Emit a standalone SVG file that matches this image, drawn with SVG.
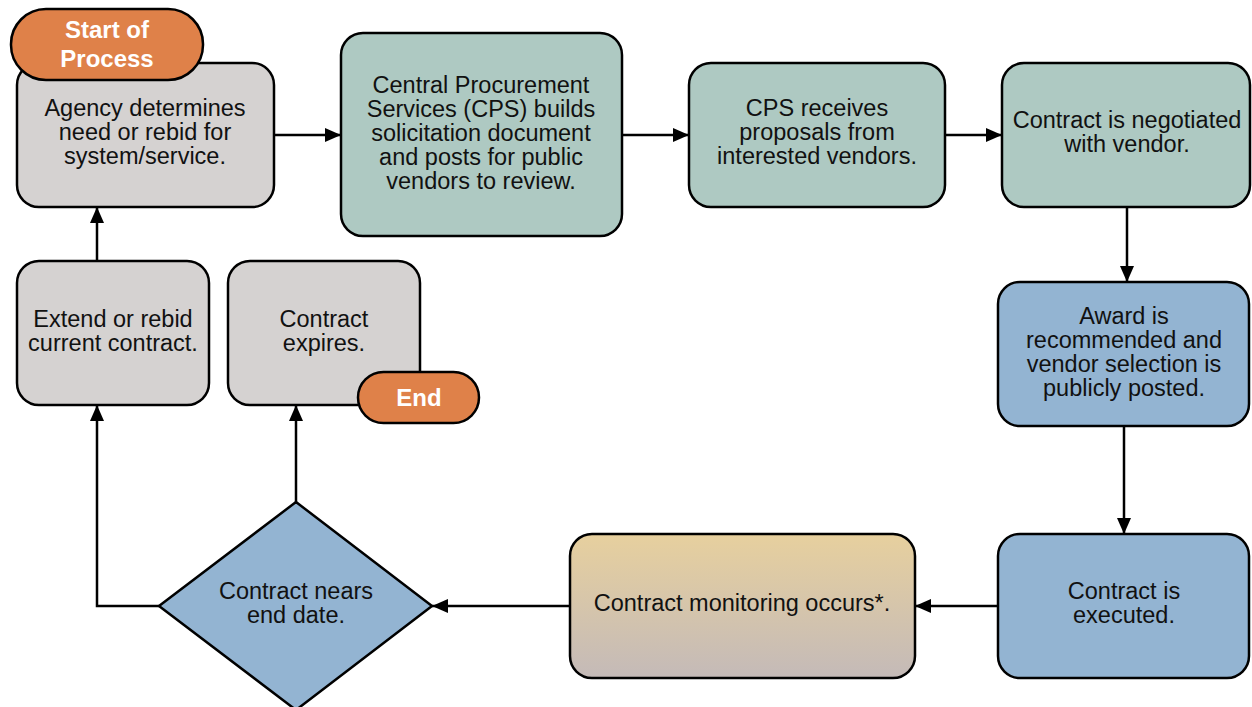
<svg xmlns="http://www.w3.org/2000/svg" width="1252" height="707" viewBox="0 0 1252 707">
  <style>
    .box { stroke: #000; stroke-width: 2.5; }
    .gray { fill: #d5d2d1; }
    .teal { fill: #aec9c2; }
    .blue { fill: #93b4d2; }
    .pill { fill: #df8149; stroke: #000; stroke-width: 2.5; }
    .t { font-family: "Liberation Sans", Arial, sans-serif; font-size: 23.5px; fill: #111; text-anchor: middle; }
    .tw { font-family: "Liberation Sans", Arial, sans-serif; font-size: 24px; font-weight: bold; fill: #fff; text-anchor: middle; }
    .conn { fill: none; stroke: #000; stroke-width: 2.5; }
  </style>
  <defs>
    <marker id="ah" viewBox="0 0 16 16" refX="16" refY="8" markerWidth="16" markerHeight="16" markerUnits="userSpaceOnUse" orient="auto">
      <path d="M0,1 L16,8 L0,15 z" fill="#000"/>
    </marker>
    <linearGradient id="monGrad" x1="0" y1="0" x2="0" y2="1">
      <stop offset="0" stop-color="#e7d09e"/>
      <stop offset="1" stop-color="#c4bab8"/>
    </linearGradient>
  </defs>

  <!-- connectors -->
  <g id="connectors">
    <path class="conn" d="M274,135 H341" marker-end="url(#ah)"/>
    <path class="conn" d="M622,135 H689" marker-end="url(#ah)"/>
    <path class="conn" d="M945,135 H1002" marker-end="url(#ah)"/>
    <path class="conn" d="M1127,207 V282" marker-end="url(#ah)"/>
    <path class="conn" d="M1124,426 V534" marker-end="url(#ah)"/>
    <path class="conn" d="M998,606 H915" marker-end="url(#ah)"/>
    <path class="conn" d="M570,606 H432" marker-end="url(#ah)"/>
    <path class="conn" d="M159,606 H97 V405" marker-end="url(#ah)"/>
    <path class="conn" d="M296,502 V405" marker-end="url(#ah)"/>
    <path class="conn" d="M97,261 V207" marker-end="url(#ah)"/>
  </g>

  <g id="agency">
    <rect class="box gray" x="17" y="63" width="257" height="144" rx="22"/>
    <text class="t" x="145" y="116">Agency determines</text>
    <text class="t" x="145" y="140">need or rebid for</text>
    <text class="t" x="145" y="164">system/service.</text>
  </g>

  <g id="start">
    <rect class="pill" x="11" y="9" width="192" height="71" rx="35"/>
    <text class="tw" x="107" y="38">Start of</text>
    <text class="tw" x="107" y="67">Process</text>
  </g>

  <g id="cps-builds">
    <rect class="box teal" x="341" y="33" width="281" height="203" rx="22"/>
    <text class="t" x="481" y="93">Central Procurement</text>
    <text class="t" x="481" y="117">Services (CPS) builds</text>
    <text class="t" x="481" y="141">solicitation document</text>
    <text class="t" x="481" y="165">and posts for public</text>
    <text class="t" x="481" y="189">vendors to review.</text>
  </g>

  <g id="cps-receives">
    <rect class="box teal" x="689" y="63" width="256" height="144" rx="22"/>
    <text class="t" x="817" y="116">CPS receives</text>
    <text class="t" x="817" y="140">proposals from</text>
    <text class="t" x="817" y="164">interested vendors.</text>
  </g>

  <g id="negotiated">
    <rect class="box teal" x="1002" y="63" width="248" height="144" rx="22"/>
    <text class="t" x="1127" y="128">Contract is negotiated</text>
    <text class="t" x="1127" y="152">with vendor.</text>
  </g>

  <g id="award">
    <rect class="box blue" x="998" y="282" width="251" height="144" rx="22"/>
    <text class="t" x="1124" y="324">Award is</text>
    <text class="t" x="1124" y="348">recommended and</text>
    <text class="t" x="1124" y="372">vendor selection is</text>
    <text class="t" x="1124" y="396">publicly posted.</text>
  </g>

  <g id="executed">
    <rect class="box blue" x="998" y="534" width="251" height="144" rx="22"/>
    <text class="t" x="1124" y="599">Contract is</text>
    <text class="t" x="1124" y="623">executed.</text>
  </g>

  <g id="monitoring">
    <rect class="box" fill="url(#monGrad)" x="570" y="534" width="345" height="144" rx="22"/>
    <text class="t" x="742" y="611">Contract monitoring occurs*.</text>
  </g>

  <g id="nears-end">
    <path class="box blue" stroke-linejoin="round" d="M296,502 L432,606 L296,710 L159,606 Z"/>
    <text class="t" x="296" y="599">Contract nears</text>
    <text class="t" x="296" y="623">end date.</text>
  </g>

  <g id="extend">
    <rect class="box gray" x="17" y="261" width="192" height="144" rx="22"/>
    <text class="t" x="113" y="327">Extend or rebid</text>
    <text class="t" x="113" y="351">current contract.</text>
  </g>

  <g id="expires">
    <rect class="box gray" x="228" y="261" width="192" height="144" rx="22"/>
    <text class="t" x="324" y="327">Contract</text>
    <text class="t" x="324" y="351">expires.</text>
  </g>

  <g id="end">
    <rect class="pill" x="358" y="372" width="121" height="51" rx="25.5"/>
    <text class="tw" x="419" y="406">End</text>
  </g>
</svg>
